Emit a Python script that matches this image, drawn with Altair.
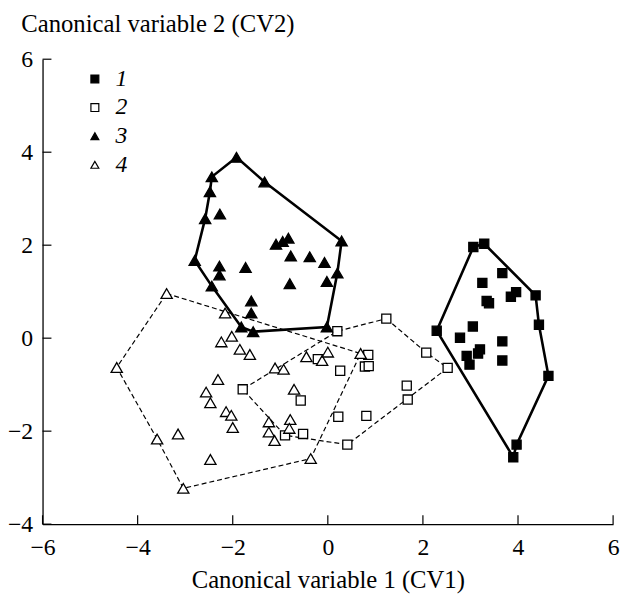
import altair as alt
import pandas as pd

# ---- data ----
# group 1 (filled squares)
g1_x = [3.06, 3.29, 3.67, 3.25, 3.85, 3.96, 3.34, 3.39, 4.37, 4.44, 2.29, 3.05,
        2.78, 3.67, 3.20, 3.16, 2.92, 2.98, 3.67, 4.64, 3.97, 3.90]
g1_y = [1.96, 2.03, 1.40, 1.19, 0.89, 0.99, 0.80, 0.75, 0.92, 0.29, 0.16, 0.25,
        0.01, -0.07, -0.24, -0.33, -0.38, -0.57, -0.48, -0.81, -2.29, -2.56]
hull1 = [0, 1, 8, 9, 19, 20, 21, 10, 0]

# group 2 (open squares)
g2_x = [1.23, 0.20, 2.07, 2.52, 0.85, -0.21, 0.78, 0.86, 0.26, -1.79, 1.66, 1.68,
        -0.57, 0.22, 0.81, -0.52, -0.90, 0.41]
g2_y = [0.42, 0.15, -0.31, -0.64, -0.36, -0.45, -0.61, -0.60, -0.70, -1.10, -1.02, -1.32,
        -1.34, -1.69, -1.67, -2.06, -2.09, -2.29]
hull2 = [0, 2, 3, 17, 16, 9, 1, 0]

# group 3 (filled triangles)
g3_x = [-1.92, -2.44, -2.48, -2.58, -2.27, -2.80, -1.33, 0.29, -1.09, -0.95, -0.83, -0.78,
        -0.38, -0.07, 0.20, -0.02, -0.80, -2.28, -2.28, -1.73, -2.44, -1.61, -1.61, -1.82,
        -1.57, -0.02]
g3_y = [3.89, 3.47, 3.15, 2.57, 2.67, 1.67, 3.36, 2.09, 2.02, 2.08, 2.15, 1.77,
        1.75, 1.63, 1.40, 1.22, 1.17, 1.55, 1.36, 1.52, 1.12, 0.80, 0.54, 0.24,
        0.14, 0.24]
hull3 = [0, 6, 7, 14, 25, 24, 23, 20, 5, 3, 2, 1, 0]

# group 4 (open triangles)
g4_x = [-3.39, -4.44, -3.59, -3.04, -3.15, -2.47, -2.16, -2.02, -2.24, -1.85, -1.64, -2.31,
        -2.56, -2.47, -2.14, -2.03, -2.00, -1.11, -0.93, -0.45, -0.12, 0.00, 0.69, -0.71,
        -1.24, -1.24, -1.12, -0.79, -0.81, -0.36]
g4_y = [0.96, -0.63, -2.17, -3.23, -2.06, -2.61, 0.54, 0.04, -0.08, -0.24, -0.35, -0.89,
        -1.16, -1.39, -1.58, -1.66, -1.92, -0.64, -0.67, -0.40, -0.48, -0.30, -0.33, -1.10,
        -1.80, -2.02, -2.20, -1.75, -1.94, -2.59]
hull4 = [0, 22, 29, 3, 2, 1, 0]

groups = ["1", "2", "3", "4"]
x_ticks = [-6, -4, -2, 0, 2, 4, 6]
y_ticks = [-4, -2, 0, 2, 4, 6]

# ---- tables ----
all_x = [g1_x, g2_x, g3_x, g4_x]
all_y = [g1_y, g2_y, g3_y, g4_y]
hulls = [hull1, hull2, hull3, hull4]

pts = pd.DataFrame([
    {"x": xv, "y": yv, "group": g}
    for g, xs_, ys_ in zip(groups, all_x, all_y)
    for xv, yv in zip(xs_, ys_)
])
hull_rows = []
for g, xs_, ys_, h in zip(groups, all_x, all_y, hulls):
    for k, i in enumerate(h):
        hull_rows.append({"x": xs_[i], "y": ys_[i], "group": g, "order": k})
hull_df = pd.DataFrame(hull_rows)
solid_df = hull_df[hull_df.group.isin(["1", "3"])]
dash_df = hull_df[hull_df.group.isin(["2", "4"])]
sq_df = pts[pts.group.isin(["1", "2"])]
tri_df = pts[pts.group.isin(["3", "4"])]

FONT = "Liberation Serif"
W, H = 578, 471

xs = alt.Scale(domain=[-6, 6], nice=False, zero=False)
ys = alt.Scale(domain=[-4, 6], nice=False, zero=False)

x_axis = alt.Axis(
    values=x_ticks, ticks=False, tickSize=0, grid=False, domain=True,
    domainColor="black", domainWidth=1.3, labelFont=FONT, labelFontSize=24,
    labelColor="black", labelPadding=12, labelFlush=False, labelOverlap=False,
    title="Canonical variable 1 (CV1)", titleFont=FONT, titleFontSize=25,
    titleFontWeight="normal", titleColor="black", titleX=W / 2, titleY=64,
    titleAlign="center", titleBaseline="alphabetic")
y_axis = alt.Axis(
    values=y_ticks, ticks=False, tickSize=0, grid=False, domain=True,
    domainColor="black", domainWidth=1.3, labelFont=FONT, labelFontSize=24,
    labelColor="black", labelPadding=10, labelFlush=False, labelOverlap=False,
    title="Canonical variable 2 (CV2)", titleFont=FONT, titleFontSize=25,
    titleFontWeight="normal", titleColor="black", titleAngle=0, titleX=-22, titleY=-28,
    titleAlign="left", titleBaseline="alphabetic")

X = alt.X("x:Q", scale=xs, axis=x_axis)
Y = alt.Y("y:Q", scale=ys, axis=y_axis)

solid = alt.Chart(solid_df).mark_line(color="black", strokeWidth=2.6).encode(
    x=X, y=Y, detail="group:N", order="order:Q",
)
dashed = alt.Chart(dash_df).mark_line(color="black", strokeWidth=1.2, strokeDash=[5, 3]).encode(
    x=X, y=Y, detail="group:N", order="order:Q",
)

xtick_rules = alt.Chart(pd.DataFrame({"x": x_ticks})).mark_rule(color="black", strokeWidth=1.2).encode(
    x=X, y=alt.value(H), y2=alt.value(H - 9),
)
ytick_rules = alt.Chart(pd.DataFrame({"y": y_ticks})).mark_rule(color="black", strokeWidth=1.2).encode(
    y=Y, x=alt.value(0), x2=alt.value(9),
)

legend = alt.Legend(
    title=None, orient="none", legendX=41, legendY=8,
    labelFont=FONT, labelFontSize=24, labelFontStyle="italic", labelColor="black",
    symbolSize=64, symbolStrokeWidth=1.2,
    labelOffset=9, rowPadding=5, padding=0,
)
SH = alt.Shape("group:N", scale=alt.Scale(domain=groups, range=["square", "square", "triangle-up", "triangle-up"]), legend=legend)
FL = alt.Fill("group:N", scale=alt.Scale(domain=groups, range=["black", "white", "black", "white"]), legend=legend)
ST = alt.Stroke("group:N", scale=alt.Scale(domain=groups, range=["black", "black", "black", "black"]), legend=legend)

squares = alt.Chart(sq_df).mark_point(filled=True, strokeWidth=1.3, opacity=1, size=85).encode(
    x=X, y=Y, shape=SH, fill=FL, stroke=ST,
)
triangles = alt.Chart(tri_df).mark_point(filled=True, strokeWidth=1.3, opacity=1, size=130).encode(
    x=X, y=Y, shape=SH, fill=FL, stroke=ST,
)

chart = alt.layer(dashed, solid, xtick_rules, ytick_rules, squares, triangles).properties(
    width=W, height=H, background="white",
    autosize=alt.AutoSizeParams(type="none"),
    padding={"left": 35, "top": 48, "right": 8, "bottom": 76},
).configure_view(stroke=None)

chart.save("out.html", embed_options={"renderer": "svg", "actions": False})
